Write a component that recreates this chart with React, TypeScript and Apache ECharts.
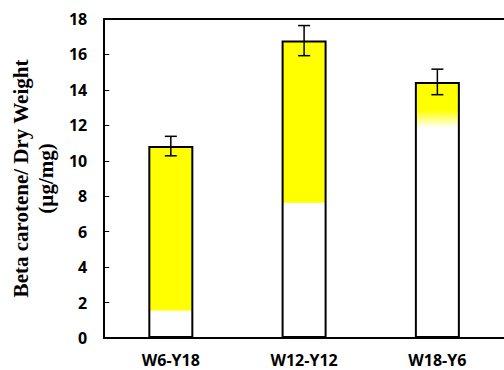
import React, { useEffect, useRef } from "react";
import * as echarts from "echarts";

const categories = ["W6-Y18", "W12-Y12", "W18-Y6"];
const totals = [10.83, 16.78, 14.45];
const errors = [0.55, 0.85, 0.72];
// value where white part ends and where solid yellow starts
const whiteTop = [1.45, 7.6, 11.9];
const yellowBottom = [1.55, 7.65, 12.9];
const yTicks = [0, 2, 4, 6, 8, 10, 12, 14, 16, 18];

export default function App() {
  const ref = useRef<HTMLDivElement>(null);
  useEffect(() => {
    if (!ref.current) return;
    const chart = echarts.init(ref.current, null, { renderer: "svg" });
    const barData = totals.map((v, i) => ({
      value: v,
      itemStyle: {
        color: new echarts.graphic.LinearGradient(0, 1, 0, 0, [
          { offset: 0, color: "#ffffff" },
          { offset: whiteTop[i] / v, color: "#ffffff" },
          { offset: yellowBottom[i] / v, color: "#ffff00" },
          { offset: 1, color: "#ffff00" },
        ]),
      },
    }));
    const errData = totals.map((v, i) => [i, v - errors[i], v + errors[i]]);
    chart.setOption({
      animation: false,
      grid: { left: 104, top: 19, bottom: 32, right: -5 },
      xAxis: [
        {
          type: "category",
          data: categories,
          axisLine: { lineStyle: { color: "#000", width: 2 } },
          axisTick: { inside: true, length: 5, lineStyle: { color: "#000", width: 1 } },
          axisLabel: {
            color: "#000",
            fontFamily: "Open Sans",
            fontWeight: "bold",
            fontSize: 16,
            lineHeight: 16,
            margin: 14,
          },
        },
        {
          type: "category",
          data: categories,
          position: "top",
          axisLine: { lineStyle: { color: "#000", width: 2 } },
          axisTick: { show: false },
          axisLabel: { show: false },
        },
      ],
      yAxis: {
        type: "value",
        min: yTicks[0],
        max: yTicks[yTicks.length - 1],
        interval: 2,
        name: "Beta carotene/ Dry Weight\n(µg/mg)",
        nameLocation: "middle",
        nameRotate: 90,
        nameGap: 43,
        nameTextStyle: {
          color: "#000",
          fontFamily: "Liberation Serif",
          fontWeight: "bold",
          fontSize: 21,
          lineHeight: 25,
        },
        splitLine: { show: false },
        axisLine: { show: true, lineStyle: { color: "#000", width: 2 } },
        axisTick: { show: true, inside: true, length: 5, lineStyle: { color: "#000", width: 1 } },
        axisLabel: {
          color: "#000",
          fontFamily: "Open Sans",
          fontWeight: "bold",
          fontSize: 16,
          margin: 17,
        },
      },
      series: [
        {
          type: "bar",
          data: barData,
          barWidth: 45,
          itemStyle: { borderColor: "#000", borderWidth: 2 },
        },
        {
          type: "custom",
          data: errData,
          z: 10,
          renderItem: (params: any, api: any) => {
            const x = api.coord([api.value(0), api.value(1)])[0];
            const lo = api.coord([api.value(0), api.value(1)])[1];
            const hi = api.coord([api.value(0), api.value(2)])[1];
            const w = 6;
            const style = { stroke: "#000", lineWidth: 1.5 };
            return {
              type: "group",
              children: [
                { type: "line", shape: { x1: x, y1: lo, x2: x, y2: hi }, style },
                { type: "line", shape: { x1: x - w, y1: hi, x2: x + w, y2: hi }, style },
                { type: "line", shape: { x1: x - w, y1: lo, x2: x + w, y2: lo }, style },
              ],
            };
          },
        },
      ],
    });
    return () => chart.dispose();
  }, []);
  return (
    <div
      ref={ref}
      style={{ position: "absolute", left: 0, top: 0, width: 504, height: 370 }}
    />
  );
}
